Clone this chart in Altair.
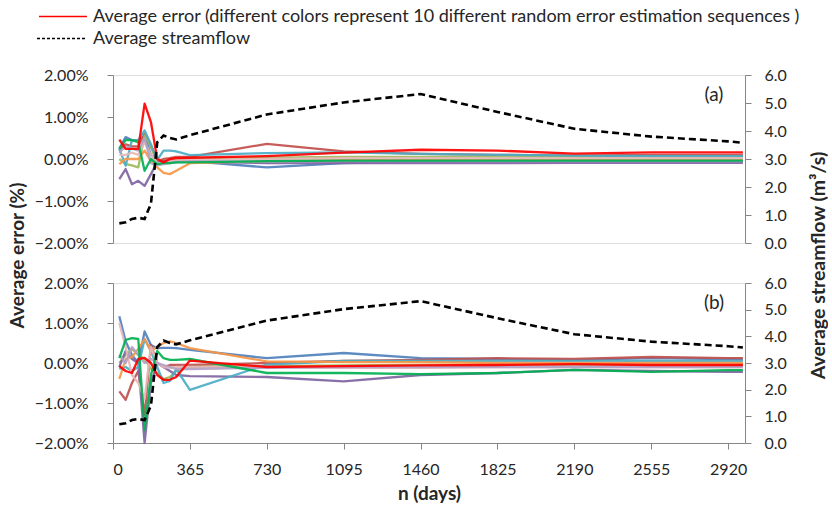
import altair as alt
import pandas as pd

# ---------------- data ----------------
n_days = [30, 60, 90, 120, 150, 180, 210, 240, 270, 300, 365, 730, 1095, 1460, 1825, 2190, 2555, 2920, 2990]
x_ticks = [0, 365, 730, 1095, 1460, 1825, 2190, 2555, 2920]

streamflow = [0.70, 0.74, 0.86, 0.90, 0.86, 1.40, 3.60, 3.84, 3.75, 3.70, 3.85, 4.59, 5.02, 5.32, 4.68, 4.08, 3.80, 3.63, 3.58]

seq_names = ["Seq 01", "Seq 02", "Seq 03", "Seq 04", "Seq 05",
             "Seq 06", "Seq 07", "Seq 08", "Seq 09", "Seq 10"]
seq_colors = ["#4F81BD", "#C0504D", "#9BBB59", "#8064A2", "#4BACC6",
              "#F79646", "#E6B9B8", "#B3A2C7", "#00B050", "#FF0000"]

# panel (a): average error in %
a_blue     = [0.25, 0.52, 0.45, 0.45, 0.55, 0.10, -0.05, -0.05, -0.02, -0.05, -0.05, -0.20, -0.10, -0.06, -0.05, -0.05, -0.05, -0.05, -0.05]
a_darkred  = [0.20, 0.35, 0.30, 0.30, 0.60, 0.30, -0.05, 0.00, 0.02, 0.05, 0.05, 0.36, 0.18, 0.12, 0.10, 0.08, 0.10, 0.10, 0.10]
a_olive    = [0.00, -0.12, -0.15, -0.20, 0.56, 0.30, -0.08, -0.05, -0.02, 0.00, 0.02, 0.03, 0.05, 0.05, 0.05, 0.05, 0.05, 0.05, 0.05]
a_purple   = [-0.48, -0.24, -0.60, -0.52, -0.64, -0.36, -0.08, -0.05, -0.05, -0.05, -0.06, -0.10, -0.10, -0.10, -0.10, -0.09, -0.09, -0.09, -0.09]
a_aqua     = [0.24, -0.16, 0.45, 0.45, 0.68, 0.35, -0.02, 0.20, 0.20, 0.18, 0.09, 0.14, 0.16, 0.12, 0.10, 0.08, 0.07, 0.07, 0.07]
a_orange   = [-0.12, 0.00, 0.00, 0.00, 0.20, -0.05, -0.20, -0.33, -0.36, -0.28, -0.10, -0.05, -0.03, -0.02, -0.02, -0.02, -0.02, -0.02, -0.02]
a_pink     = [0.10, 0.10, 0.15, 0.10, 0.40, 0.10, -0.10, -0.08, -0.05, -0.03, -0.02, 0.00, 0.02, 0.02, 0.02, 0.02, 0.02, 0.02, 0.02]
a_lavender = [0.15, 0.30, 0.25, 0.20, 0.50, -0.10, -0.15, -0.12, -0.10, -0.08, -0.06, -0.06, -0.05, -0.05, -0.05, -0.05, -0.05, -0.05, -0.05]
a_green    = [0.24, 0.45, 0.45, 0.40, -0.28, 0.00, -0.12, -0.10, -0.10, -0.08, -0.08, -0.05, -0.04, -0.04, -0.04, -0.04, -0.04, -0.04, -0.04]
a_red      = [0.46, 0.24, 0.24, 0.24, 1.32, 0.88, 0.00, -0.08, 0.00, 0.02, 0.03, 0.07, 0.15, 0.22, 0.20, 0.13, 0.16, 0.16, 0.16]

# panel (b): average error in %
b_blue     = [1.17, 0.54, 0.20, 0.00, 0.79, 0.45, 0.37, 0.38, 0.38, 0.37, 0.33, 0.12, 0.25, 0.12, 0.10, 0.08, 0.12, 0.10, 0.10]
b_darkred  = [-0.71, -0.92, -0.50, -0.20, -1.30, 0.45, 0.00, -0.10, -0.05, -0.05, -0.05, 0.00, 0.05, 0.08, 0.12, 0.10, 0.15, 0.12, 0.12]
b_olive    = [0.00, 0.20, 0.35, 0.20, 0.10, -0.15, -0.25, -0.40, -0.35, -0.20, -0.10, -0.08, -0.06, -0.05, -0.05, -0.05, -0.05, -0.05, -0.05]
b_purple   = [-0.10, 0.30, 0.10, 0.00, -2.00, -0.50, 0.00, -0.10, -0.20, -0.30, -0.33, -0.35, -0.46, -0.30, -0.25, -0.17, -0.20, -0.22, -0.22]
b_aqua     = [-0.15, -0.10, -0.20, -0.10, 0.60, 0.30, -0.10, -0.50, -0.45, -0.15, -0.67, -0.04, 0.05, 0.05, 0.05, 0.05, 0.05, 0.05, 0.05]
b_orange   = [-0.40, 0.10, 0.15, 0.35, 0.60, 0.30, 0.40, 0.50, 0.54, 0.50, 0.37, 0.04, 0.02, 0.02, 0.00, 0.00, 0.00, 0.00, 0.00]
b_pink     = [1.00, 0.40, -0.30, -0.50, -0.90, 0.40, 0.00, -0.10, -0.12, -0.10, -0.10, -0.10, -0.12, -0.12, -0.10, -0.10, -0.10, -0.10, -0.10]
b_lavender = [0.20, 0.00, 0.40, 0.20, 0.00, 0.10, 0.00, -0.05, -0.10, -0.15, -0.15, -0.12, -0.10, -0.10, -0.10, -0.10, -0.10, -0.10, -0.10]
b_green    = [0.12, 0.58, 0.62, 0.60, -1.67, -0.30, 0.30, 0.12, 0.08, 0.08, 0.10, -0.25, -0.25, -0.28, -0.25, -0.17, -0.22, -0.18, -0.18]
b_red      = [-0.08, -0.20, -0.25, 0.10, 0.13, 0.00, -0.30, -0.42, -0.42, -0.35, 0.06, -0.10, -0.08, -0.06, -0.05, -0.03, -0.05, -0.05, -0.05]

err_a = [a_blue, a_darkred, a_olive, a_purple, a_aqua, a_orange, a_pink, a_lavender, a_green, a_red]
err_b = [b_blue, b_darkred, b_olive, b_purple, b_aqua, b_orange, b_pink, b_lavender, b_green, b_red]

legend_err = "Average error (different colors represent 10 different random error estimation sequences )"
legend_flow = "Average streamflow"

FONT = "Lato"
GRAY = "#868686"
TXT = "#262626"
W = 632


def long_df(series):
    rows = []
    for name, vals in zip(seq_names, series):
        for n, v in zip(n_days, vals):
            rows.append({"n": n, "err": v, "seq": name})
    return pd.DataFrame(rows)


flow_df = pd.DataFrame({"n": n_days, "flow": streamflow})
one = pd.DataFrame({"k": [0]})


def panel(series, tag, h, bottom, top):
    if bottom:
        x_axis = alt.Axis(values=x_ticks, format="d", title="n (days)", grid=False, tickSize=6,
                          tickColor=GRAY, domainColor=GRAY, labelFontSize=16,
                          labelPadding=12, titleFontSize=19, titleFontWeight="bold",
                          titlePadding=7, labelColor=TXT, titleColor=TXT)
    else:
        x_axis = None
    x = alt.X("n:Q", scale=alt.Scale(domain=[0, 3000], nice=False, zero=False), axis=x_axis)

    if top:
        left_axis = alt.Axis(values=[-2, -1, 0, 1, 2], labelExpr="format(datum.value, '.2f') + '%'",
                             grid=False, tickSize=6, tickColor=GRAY, domainColor=GRAY,
                             labelFontSize=16, labelPadding=19, labelColor=TXT,
                             title="Average error (%)", titleFontSize=19, titleFontWeight="bold",
                             titleColor=TXT, titleAngle=270, titleX=-96, titleY=180,
                             titleAlign="center", titleBaseline="middle")
        right_axis = alt.Axis(values=[0, 1, 2, 3, 4, 5, 6], format=".1f", orient="right",
                              grid=False, tickSize=6, tickColor=GRAY, domainColor=GRAY,
                              labelFontSize=16, labelPadding=13, labelColor=TXT,
                              title="Average streamflow (m³/s)", titleFontSize=19.5,
                              titleFontWeight="bold", titleColor=TXT, titleAngle=270,
                              titleX=73, titleY=190, titleAlign="center", titleBaseline="middle")
    else:
        left_axis = alt.Axis(values=[-2, -1, 0, 1, 2], labelExpr="format(datum.value, '.2f') + '%'",
                             grid=False, tickSize=6, tickColor=GRAY, domainColor=GRAY,
                             labelFontSize=16, labelPadding=19, labelColor=TXT, title=None)
        right_axis = alt.Axis(values=[0, 1, 2, 3, 4, 5, 6], format=".1f", orient="right",
                              grid=False, tickSize=6, tickColor=GRAY, domainColor=GRAY,
                              labelFontSize=16, labelPadding=13, labelColor=TXT, title=None)

    errs = alt.Chart(long_df(series)).mark_line(strokeJoin="round", opacity=0.92).encode(
        x=x,
        y=alt.Y("err:Q", scale=alt.Scale(domain=[-2, 2], nice=False), axis=left_axis),
        color=alt.Color("seq:N", scale=alt.Scale(domain=seq_names, range=seq_colors), legend=None),
        strokeWidth=alt.StrokeWidth("seq:N", scale=alt.Scale(domain=seq_names, range=[2.3] * 9 + [3.0]),
                                    legend=None),
    )
    fl = alt.Chart(flow_df).mark_line(color="black", strokeDash=[7, 4], strokeWidth=2.6).encode(
        x=x,
        y=alt.Y("flow:Q", scale=alt.Scale(domain=[0, 6], nice=False), axis=right_axis),
    )
    lab = alt.Chart(one).mark_text(fontSize=19, font=FONT, color=TXT, align="center",
                                   baseline="middle").encode(
        x=alt.value(601), y=alt.value(20), text=alt.value(tag))
    layers = [errs, fl, lab]
    if top:
        r1 = alt.Chart(one).mark_rule(color="#FF0000", strokeWidth=1.5).encode(
            x=alt.value(-74), x2=alt.value(-26), y=alt.value(-58.5))
        t1 = alt.Chart(one).mark_text(fontSize=18, font=FONT, color=TXT, align="left",
                                      baseline="middle").encode(
            x=alt.value(-20), y=alt.value(-58.5), text=alt.value(legend_err))
        r2 = alt.Chart(one).mark_rule(color="black", strokeWidth=1.5, strokeDash=[3, 2]).encode(
            x=alt.value(-76), x2=alt.value(-28), y=alt.value(-36.5))
        t2 = alt.Chart(one).mark_text(fontSize=18, font=FONT, color=TXT, align="left",
                                      baseline="middle").encode(
            x=alt.value(-20), y=alt.value(-36.5), text=alt.value(legend_flow))
        layers += [r1, t1, r2, t2]
    return alt.layer(*layers).resolve_scale(y="independent").properties(width=W, height=h)


pa = panel(err_a, "(a)", 168, bottom=False, top=True)
pb = panel(err_b, "(b)", 160, bottom=True, top=False)

chart = alt.vconcat(pa, pb, spacing=40, bounds="flush").properties(
    padding={"left": 7, "top": 7, "right": 0, "bottom": 0}
).configure_view(stroke=GRAY, strokeWidth=1.2).configure(font=FONT)

chart.save("out.html", embed_options={"renderer": "svg", "actions": False})
